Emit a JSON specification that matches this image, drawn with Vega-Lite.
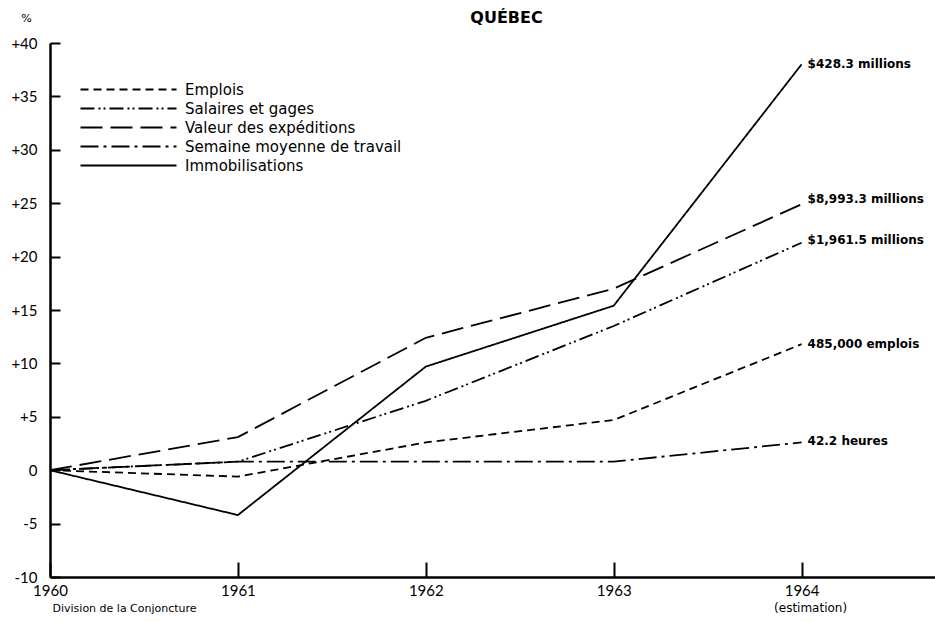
{
  "$schema": "https://vega.github.io/schema/vega-lite/v6.json",
  "width": 885,
  "height": 534,
  "autosize": {"type": "none"},
  "padding": {"left": 50, "top": 43, "right": 0, "bottom": 45},
  "background": "white",
  "config": {
    "view": {"stroke": null},
    "font": "Lato",
    "axis": {"labelFont": "Lato", "titleFont": "DejaVu Sans", "labelColor": "black", "titleColor": "black", "grid": false}
  },
  "title": {"text": "QUÉBEC", "fontSize": 16, "fontWeight": "bold", "font": "DejaVu Sans", "color": "black", "offset": -14, "anchor": "middle", "dx": 14},
  "datasets": {
    "series": [
      {"series": "Emplois", "year": 1960, "value": 0},
      {"series": "Emplois", "year": 1961, "value": -0.6},
      {"series": "Emplois", "year": 1962, "value": 2.6},
      {"series": "Emplois", "year": 1963, "value": 4.7},
      {"series": "Emplois", "year": 1964, "value": 11.8},
      {"series": "Salaires et gages", "year": 1960, "value": 0},
      {"series": "Salaires et gages", "year": 1961, "value": 0.8},
      {"series": "Salaires et gages", "year": 1962, "value": 6.5},
      {"series": "Salaires et gages", "year": 1963, "value": 13.5},
      {"series": "Salaires et gages", "year": 1964, "value": 21.3},
      {"series": "Valeur des expéditions", "year": 1960, "value": 0},
      {"series": "Valeur des expéditions", "year": 1961, "value": 3.1},
      {"series": "Valeur des expéditions", "year": 1962, "value": 12.4},
      {"series": "Valeur des expéditions", "year": 1963, "value": 17.0},
      {"series": "Valeur des expéditions", "year": 1964, "value": 24.9},
      {"series": "Semaine moyenne de travail", "year": 1960, "value": 0},
      {"series": "Semaine moyenne de travail", "year": 1961, "value": 0.8},
      {"series": "Semaine moyenne de travail", "year": 1962, "value": 0.8},
      {"series": "Semaine moyenne de travail", "year": 1963, "value": 0.8},
      {"series": "Semaine moyenne de travail", "year": 1964, "value": 2.6},
      {"series": "Immobilisations", "year": 1960, "value": 0},
      {"series": "Immobilisations", "year": 1961, "value": -4.2},
      {"series": "Immobilisations", "year": 1962, "value": 9.7},
      {"series": "Immobilisations", "year": 1963, "value": 15.4},
      {"series": "Immobilisations", "year": 1964, "value": 38.0}
    ],
    "labels": [
      {"year": 1964, "value": 38.0, "label": "$428.3 millions"},
      {"year": 1964, "value": 25.4, "label": "$8,993.3 millions"},
      {"year": 1964, "value": 21.6, "label": "$1,961.5 millions"},
      {"year": 1964, "value": 11.8, "label": "485,000 emplois"},
      {"year": 1964, "value": 2.7, "label": "42.2 heures"}
    ],
    "notes": [
      {"year": 1964, "value": -10, "note": "(estimation)"}
    ]
  },
  "layer": [
    {
      "mark": {"type": "rule", "color": "black", "strokeWidth": 2.5},
      "encoding": {"y": {"datum": 40, "type": "quantitative"}}
    },
    {
      "mark": {"type": "rule", "color": "black", "strokeWidth": 2.5},
      "encoding": {
        "x": {"datum": 1960, "type": "quantitative"},
        "x2": {"datum": 1964},
        "y": {"datum": 0, "type": "quantitative"}
      }
    },
    {
      "data": {"name": "series"},
      "mark": {"type": "line", "color": "black", "strokeWidth": 1.8},
      "encoding": {
        "x": {
          "field": "year", "type": "quantitative",
          "scale": {"domain": [1960, 1964.71], "nice": false, "zero": false},
          "axis": {
            "values": [1960, 1961, 1962, 1963, 1964],
            "format": "d",
            "tickSize": -15, "tickWidth": 2, "tickColor": "black",
            "domainColor": "black", "domainWidth": 2.5,
            "labelFontSize": 15, "labelPadding": 21, "labelFlush": false,
            "title": "Division de la Conjoncture",
            "titleFontSize": 11, "titleFontWeight": "normal",
            "titleAnchor": "start", "titleAlign": "left", "titleX": 2, "titleY": 31, "titleBaseline": "middle"
          }
        },
        "y": {
          "field": "value", "type": "quantitative",
          "scale": {"domain": [-10, 40], "nice": false},
          "axis": {
            "values": [-10, -5, 0, 5, 10, 15, 20, 25, 30, 35, 40],
            "labelExpr": "datum.value > 0 ? '+' + datum.value : (datum.value < 0 ? '-' + abs(datum.value) : '0')",
            "tickSize": -10, "tickWidth": 2, "tickColor": "black",
            "domainColor": "black", "domainWidth": 2.5,
            "labelFontSize": 15, "labelPadding": 23,
            "title": "%", "titleAngle": 0, "titleFontSize": 11, "titleFontWeight": "normal",
            "titleX": -24, "titleY": -25, "titleAlign": "center", "titleBaseline": "middle"
          }
        },
        "strokeDash": {
          "field": "series", "type": "nominal",
          "scale": {
            "domain": ["Emplois", "Salaires et gages", "Valeur des expéditions", "Semaine moyenne de travail", "Immobilisations"],
            "range": [[8, 5], [14, 4, 2, 3, 2, 4], [22, 8], [18, 5, 3, 5], [1, 0]]
          },
          "legend": {
            "title": null,
            "orient": "none", "legendX": 71, "legendY": 39,
            "symbolType": "M-12,0H12", "symbolSize": 64, "symbolStrokeWidth": 1.8,
            "symbolStrokeColor": "black", "symbolFillColor": "transparent",
            "labelFont": "DejaVu Sans", "labelFontSize": 15, "labelColor": "black", "labelOffset": 49,
            "labelLimit": 400, "rowPadding": 3
          }
        }
      }
    },
    {
      "data": {"name": "labels"},
      "mark": {"type": "text", "align": "left", "baseline": "middle", "dx": 6, "font": "DejaVu Sans", "fontSize": 12, "fontWeight": "bold", "color": "black"},
      "encoding": {
        "x": {"field": "year", "type": "quantitative"},
        "y": {"field": "value", "type": "quantitative"},
        "text": {"field": "label"}
      }
    },
    {
      "data": {"name": "notes"},
      "mark": {"type": "text", "align": "center", "baseline": "middle", "dx": 9, "dy": 31, "font": "DejaVu Sans", "fontSize": 12, "color": "black"},
      "encoding": {
        "x": {"field": "year", "type": "quantitative"},
        "y": {"field": "value", "type": "quantitative"},
        "text": {"field": "note"}
      }
    }
  ]
}
